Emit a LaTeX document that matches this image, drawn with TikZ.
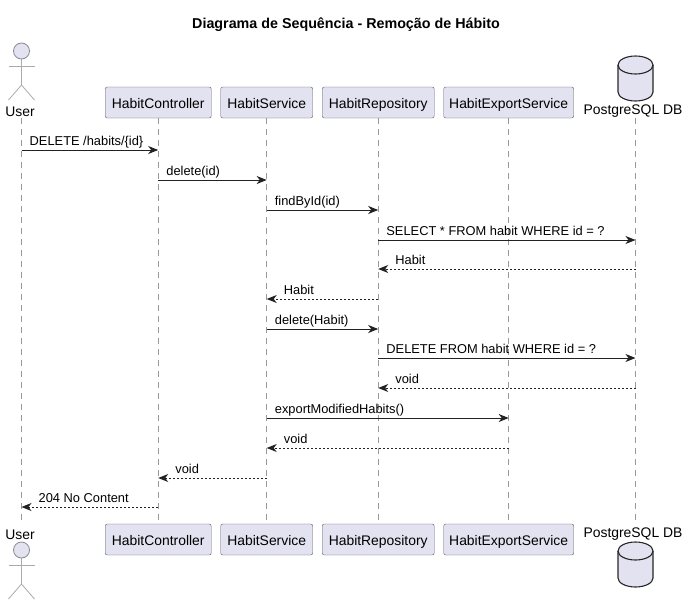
\documentclass[tikz,border=0pt]{standalone}
\usepackage{fontspec}
\setmainfont{Liberation Sans}
\usepackage{xcolor}
\definecolor{partfill}{HTML}{E2E2F0}
\definecolor{partedge}{HTML}{5A5A66}
\definecolor{stickedge}{HTML}{ABABAB}
\definecolor{lifegray}{HTML}{999999}
\definecolor{msgline}{HTML}{222222}
\usetikzlibrary{arrows.meta, positioning}

% one message: source, target, height, text
\newcommand{\callmsg}[4]{
  \coordinate (#1-#3) at (#1 |- 0,#3);
  \coordinate (#2-#3) at (#2 |- 0,#3);
  \draw[callarr] (#1-#3) -- (#2-#3);
  \node[msglabel] (lab#3) at ([xshift=8pt,yshift=5pt]#1-#3) {#4};
}
\newcommand{\retmsg}[4]{
  \coordinate (#1-#3) at (#1 |- 0,#3);
  \coordinate (#2-#3) at (#2 |- 0,#3);
  \draw[retarr] (#1-#3) -- (#2-#3);
  \node[msglabel] (lab#3) at ([xshift=17pt,yshift=5pt]#2-#3) {#4};
}

\begin{document}
\begin{tikzpicture}[
  x=1pt, y=-1pt,
  font=\fontsize{13.9}{16}\selectfont,
  partbox/.style={
    draw=partedge, fill=partfill, rounded corners=2pt,
    minimum height=31pt, inner sep=0pt, outer sep=0pt, align=center,
    text height=11.5pt, text depth=0pt
  },
  actorlabel/.style={inner sep=0pt, anchor=center},
  dbbody/.style={draw=black!85, fill=partfill, line width=1.1pt},
  stick/.style={draw=stickedge, line width=0.8pt},
  lifeline/.style={lifegray, dash pattern=on 6pt off 5pt, line width=0.6pt},
  callarr/.style={-{Stealth[length=10pt, width=8pt, inset=3pt]}, msgline, line width=1pt},
  retarr/.style={-{Stealth[length=10pt, width=8pt, inset=3pt]}, msgline, line width=1pt, dash pattern=on 2pt off 2pt},
  msglabel/.style={font=\fontsize{12.85}{15}\selectfont, anchor=base west, inner sep=0pt}
]
  \useasboundingbox (0,0) rectangle (688,605);

  \node[font=\fontsize{14.3}{16}\selectfont\bfseries] (ntitle) at (346,25) {Diagrama de Sequência - Remoção de Hábito};

  % top row
  \node[partbox, minimum width=106pt] (nctrl) at (158.2,102.5) {HabitController};
  \node[partbox, minimum width=92pt, right=9.5pt of nctrl] (nserv) {HabitService};
  \node[partbox, minimum width=112pt, right=9.5pt of nserv] (nrepo) {HabitRepository};
  \node[partbox, minimum width=130pt, right=9.5pt of nrepo] (nexport) {HabitExportService};
  \node[actorlabel] (nuser) at (20,111.5) {User};
  \node[actorlabel] (ndb) at (633,111.5) {PostgreSQL DB};

  % bottom row
  \node[partbox, minimum width=106pt, below=406pt of nctrl] (nctrlB) {HabitController};
  \node[partbox, minimum width=92pt, below=406pt of nserv] (nservB) {HabitService};
  \node[partbox, minimum width=112pt, below=406pt of nrepo] (nrepoB) {HabitRepository};
  \node[partbox, minimum width=130pt, below=406pt of nexport] (nexportB) {HabitExportService};
  \node[actorlabel] (nuserB) at (20,534.5) {User};
  \node[actorlabel] (ndbB) at (633,534.5) {PostgreSQL DB};

  % actors
  \coordinate (headT) at (21.5,51);
  \coordinate (headB) at (21.5,550);
  \foreach \hd in {headT, headB} {
    \draw[stick] (\hd) ++(0,8) -- ++(0,26) ++(-13,-18.5) -- ++(26,0);
    \draw[stick] (\hd) ++(-13,49) -- ++(13,-15) -- ++(13,15);
    \draw[stick, draw=partedge!70, fill=partfill] (\hd) circle (8);
  }

  % database cylinders
  \coordinate (dbT) at (635.5,65);
  \coordinate (dbB) at (635.5,551);
  \foreach \cyl in {dbT, dbB} {
    \draw[dbbody] (\cyl) ++(-17.5,0) arc[start angle=180, end angle=0, x radius=17.5, y radius=-9]
      -- ++(0,27) arc[start angle=0, end angle=-180, x radius=17.5, y radius=-9] -- cycle;
    \draw[dbbody, fill=none] (\cyl) ++(-17.5,0) arc[start angle=180, end angle=360, x radius=17.5, y radius=-9];
  }

  % lifelines
  \coordinate (userL) at (21.5,118);
  \coordinate (userLB) at (21.5,524);
  \coordinate (dbL) at (635.5,118);
  \coordinate (dbLB) at (635.5,524);
  \draw[lifeline] (userL) -- (userLB);
  \draw[lifeline] (nctrl) -- (nctrlB);
  \draw[lifeline] (nserv) -- (nservB);
  \draw[lifeline] (nrepo) -- (nrepoB);
  \draw[lifeline] (nexport) -- (nexportB);
  \draw[lifeline] (dbL) -- (dbLB);

  \callmsg{userL}{nctrl}{150}{DELETE /habits/\{id\}}
  \callmsg{nctrl}{nserv}{180}{delete(id)}
  \callmsg{nserv}{nrepo}{210}{findById(id)}
  \callmsg{nrepo}{dbL}{240}{SELECT * FROM habit WHERE id = ?}
  \retmsg{dbL}{nrepo}{269}{Habit}
  \retmsg{nrepo}{nserv}{299}{Habit}
  \callmsg{nserv}{nrepo}{329}{delete(Habit)}
  \callmsg{nrepo}{dbL}{358}{DELETE FROM habit WHERE id = ?}
  \retmsg{dbL}{nrepo}{388}{void}
  \callmsg{nserv}{nexport}{418}{exportModifiedHabits()}
  \retmsg{nexport}{nserv}{448}{void}
  \retmsg{nserv}{nctrl}{478}{void}
  \retmsg{nctrl}{userL}{507}{204 No Content}
\end{tikzpicture}
\end{document}
